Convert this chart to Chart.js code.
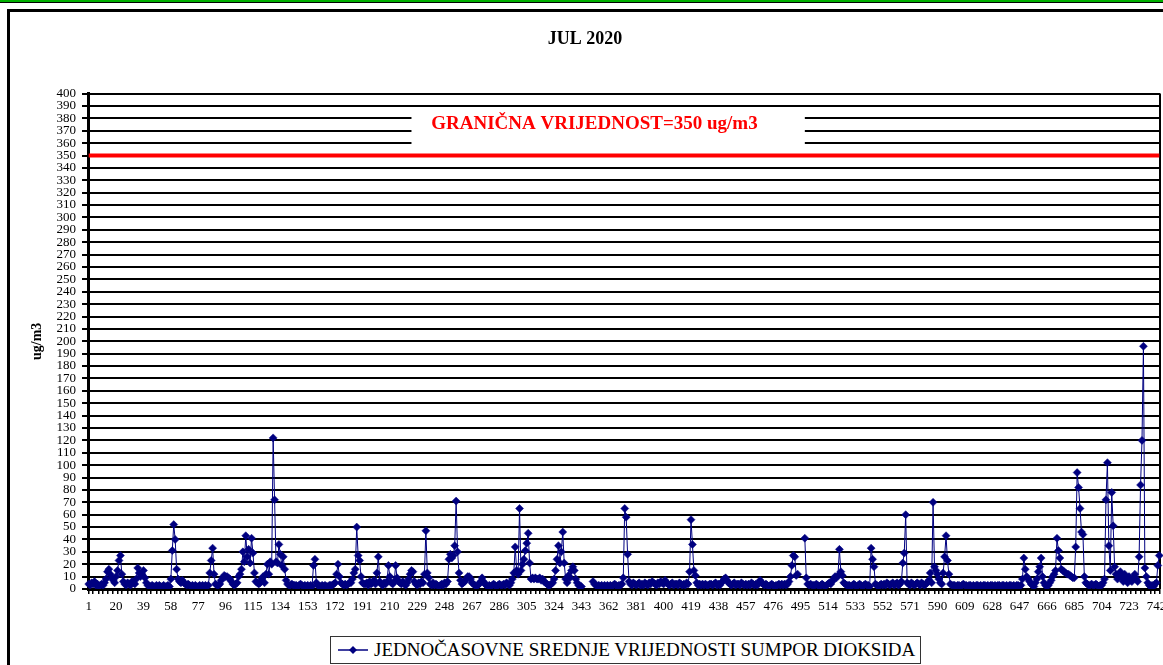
<!DOCTYPE html>
<html>
<head>
<meta charset="utf-8">
<title>SO2 - JUL 2020</title>
<script src="https://cdn.jsdelivr.net/npm/chart.js@4.4.1/dist/chart.umd.min.js"></script>
<style>
  html, body { margin: 0; padding: 0; background: #fff; width: 1163px; height: 665px; overflow: hidden; }
  #topline { position: absolute; left: 0; top: 0; width: 1163px; height: 2px; background: #00b000; border-bottom: 1px solid #000; }
  #frame { position: absolute; left: 7px; top: 9px; width: 1200px; height: 700px; border: 3px solid #000; }
  #wrap { position: absolute; left: 10px; top: 12px; width: 1162px; height: 653px; }
  #legend { position: absolute; left: 330px; top: 636px; width: 591px; height: 28px; box-sizing: border-box;
            border: 1px solid #333; background: #fff; display: flex; align-items: center; padding-left: 6px;
            font: 19px "Liberation Serif", "Times New Roman", serif; color: #000; white-space: nowrap; }
  #legend svg { margin-right: 5px; }
</style>
</head>
<body>
<div id="topline"></div>
<div id="frame"></div>
<div id="wrap"><canvas id="so2Chart" width="1162" height="653"></canvas></div>
<div id="legend">
  <svg width="32" height="12"><line x1="1" y1="6" x2="31" y2="6" stroke="#000080" stroke-width="1.5"/><polygon points="16,2 20,6 16,10 12,6" fill="#000080"/></svg>
  <span>JEDNOČASOVNE SREDNJE VRIJEDNOSTI SUMPOR DIOKSIDA</span>
</div>
<script>
// hourly SO2 means, ug/m3, one row per day (24 h)
var week1 = [
  4,3,5,4,6,3,4,2,3,4,3,5,8,14,16,12,9,7,5,10,15,23,27,12,
  6,4,3,5,4,3,6,5,4,8,17,13,10,12,15,9,5,3,2,2,3,2,2,3,
  2,3,2,2,3,2,2,3,2,8,31,52,40,16,8,6,5,7,5,4,3,4,3,2,
  3,2,3,2,2,3,2,3,2,3,2,3,13,23,33,12,4,3,3,4,7,9,11,10,
  10,9,8,6,4,3,4,5,10,12,16,30,22,43,26,32,21,41,29,13,6,5,4,5,
  8,10,5,12,20,12,22,20,122,72,22,21,36,28,19,26,16,7,4,3,3,4,3,3,
  3,2,3,4,3,2,3,2,3,2,3,2,19,24,5,3,2,2,3,2,3,2,2,3
];
var week2 = [
  3,3,4,5,12,20,10,5,4,3,4,3,4,5,5,8,13,16,50,27,23,10,5,4,
  4,5,3,6,4,5,7,4,13,26,6,4,3,5,4,6,19,10,5,4,6,19,9,6,
  5,4,6,4,3,5,8,12,15,14,6,4,3,5,4,6,5,12,47,13,9,4,3,5,
  3,4,3,2,3,4,3,5,4,6,24,28,25,27,35,71,30,13,7,4,5,6,8,10,
  10,8,5,4,3,2,3,4,6,9,6,4,3,2,3,2,3,4,3,2,3,4,3,3,
  4,3,5,4,3,5,8,13,34,15,12,65,15,20,24,31,37,45,21,8,9,8,9,8,
  8,9,7,8,6,5,4,3,3,4,5,8,15,24,35,21,30,46,21,8,5,11,9,15
];
var week3 = [
  18,15,8,5,3,2,2,null,null,null,null,null,null,null,6,4,3,2,3,2,3,2,3,2,
  3,2,3,2,3,4,3,2,3,3,4,9,65,58,28,6,4,3,5,4,3,4,5,3,
  4,3,5,4,3,5,4,6,5,4,3,5,4,6,5,4,7,5,4,3,4,5,3,4,
  4,3,5,4,3,4,3,5,4,14,56,36,15,11,5,3,4,3,4,3,4,3,3,4,
  4,3,4,5,3,4,3,5,6,8,9,7,5,4,3,4,5,3,4,4,3,5,4,3,
  4,3,4,3,5,4,3,4,3,5,7,5,4,3,4,3,2,3,4,3,2,3,3,4,
  3,4,3,4,3,4,6,10,19,27,26,11,12,null,null,null,null,41,9,4,3,4,3,3
];
var week4 = [
  3,4,3,2,3,4,3,2,3,4,5,4,6,8,10,9,11,32,14,11,5,4,3,3,
  3,2,3,4,3,2,3,4,3,2,3,4,3,3,2,33,24,18,4,3,2,3,4,3,
  4,3,5,4,3,4,5,3,4,5,3,4,6,21,29,60,5,4,3,5,4,3,4,5,
  4,3,5,4,3,4,5,7,13,5,70,18,15,12,8,5,4,13,26,43,23,12,4,3,
  3,3,2,3,3,2,3,4,3,3,2,3,3,2,3,2,3,3,2,3,2,3,3,2,
  3,2,3,3,2,3,2,3,3,2,3,3,2,3,2,3,3,2,3,2,3,3,2,3,
  8,25,16,10,8,6,4,3,2,5,8,14,18,25,10,5,3,2,3,5,7,10,12,15
];
var week5 = [
  41,31,25,16,15,14,13,12,12,11,10,9,9,34,94,82,65,46,44,10,5,4,3,3,
  4,3,3,4,3,2,3,3,5,8,72,102,35,15,78,51,18,12,8,10,14,9,6,12,
  8,5,10,7,6,9,12,8,6,26,84,120,196,17,10,5,3,2,3,2,4,5,19,27
];
var so2 = week1.concat(week2, week3, week4, week5);
var hours = so2.map(function (v, i) { return String(i + 1); });

var LIMIT = 350;
var LIMIT_TEXT = 'GRANIČNA VRIJEDNOST=350 ug/m3';
var labelStep = 19;
var serif = '"Liberation Serif", "Times New Roman", serif';

// white box + red text over the upper grid lines
var limitLabel = {
  id: 'limitLabel',
  afterDatasetsDraw: function (chart) {
    var ctx = chart.ctx, x = chart.scales.x, y = chart.scales.y;
    var l = x.getPixelForValue(224), r = x.getPixelForValue(497);
    var t = y.getPixelForValue(388), b = y.getPixelForValue(354);
    ctx.save();
    ctx.fillStyle = '#fff';
    ctx.fillRect(l, t, r - l, b - t);
    ctx.fillStyle = '#ff0000';
    ctx.font = 'bold 19px ' + serif;
    ctx.textAlign = 'center';
    ctx.textBaseline = 'middle';
    ctx.fillText(LIMIT_TEXT, x.getPixelForValue(351), y.getPixelForValue(375));
    ctx.restore();
  }
};

// right edge of the plot area
var plotFrame = {
  id: 'plotFrame',
  beforeDatasetsDraw: function (chart) {
    var a = chart.chartArea, ctx = chart.ctx;
    ctx.save();
    ctx.strokeStyle = '#000';
    ctx.lineWidth = 2;
    ctx.beginPath();
    ctx.moveTo(a.right, a.top);
    ctx.lineTo(a.right, a.bottom);
    ctx.stroke();
    ctx.restore();
  }
};

var ctx = document.getElementById('so2Chart');
var so2Chart = new Chart(ctx, {
  type: 'line',
  data: {
    labels: hours,
    datasets: [{
      label: 'JEDNOČASOVNE SREDNJE VRIJEDNOSTI SUMPOR DIOKSIDA',
      data: so2,
      borderColor: '#000080',
      backgroundColor: '#000080',
      borderWidth: 1,
      pointStyle: 'rectRot',
      pointRadius: 4,
      pointHoverRadius: 4,
      pointBackgroundColor: '#000080',
      pointBorderColor: '#000080',
      pointBorderWidth: 0.5,
      tension: 0,
      spanGaps: false,
      order: 1
    }, {
      label: 'limit',
      data: hours.map(function () { return LIMIT; }),
      borderColor: '#ff0000',
      borderWidth: 4,
      pointRadius: 0,
      order: 2
    }]
  },
  options: {
    responsive: false,
    animation: false,
    events: [],
    layout: { padding: { left: 0, right: 12, top: 0, bottom: 0 } },
    plugins: {
      legend: { display: false },
      tooltip: { enabled: false },
      title: {
        display: true,
        text: 'JUL 2020',
        color: '#000',
        font: { family: serif, size: 18, weight: 'bold' },
        padding: { top: 17, bottom: 43 }
      }
    },
    scales: {
      x: {
        type: 'category',
        offset: true,
        grid: {
          drawOnChartArea: false,
          drawTicks: true,
          tickLength: 5,
          lineWidth: 1.5,
          color: function (c) {
            var m = c.index % 10;
            return (m === 0 || m === 3 || m === 7) ? '#000' : 'rgba(0,0,0,0)';
          }
        },
        border: { display: true, color: '#000', width: 3 },
        ticks: {
          autoSkip: false,
          maxRotation: 0,
          minRotation: 0,
          padding: 5,
          color: '#000',
          font: { family: serif, size: 13 },
          callback: function (v, i) { return i % labelStep === 0 ? hours[i] : ''; }
        },
        afterFit: function (s) { s.height = 76; }
      },
      y: {
        min: 0,
        max: 400,
        ticks: {
          stepSize: 10,
          autoSkip: false,
          padding: 6,
          color: '#000',
          font: { family: serif, size: 13 }
        },
        grid: { color: '#000', lineWidth: 2, tickLength: 6, drawTicks: true },
        border: { color: '#000', width: 3 },
        title: {
          display: true,
          text: 'ug/m3',
          color: '#000',
          font: { family: serif, size: 14, weight: 'bold' },
          padding: { top: 19, bottom: 0 }
        },
        afterFit: function (s) { s.width = 78; }
      }
    }
  },
  plugins: [limitLabel, plotFrame]
});
</script>
</body>
</html>
